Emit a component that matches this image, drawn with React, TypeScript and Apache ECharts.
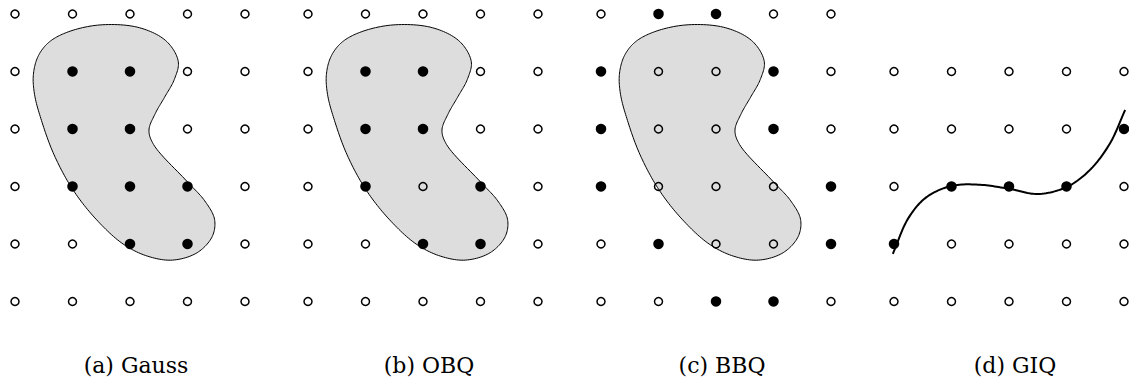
import React, { useEffect, useRef } from 'react';
import * as echarts from 'echarts';

// Panel captions
const panelLabels = ['(a) Gauss', '(b) OBQ', '(c) BBQ', '(d) GIQ'];

// Lattice: columns and rows present in each panel
const columns = [0, 1, 2, 3, 4];
const panelRows = [
  [0, 1, 2, 3, 4, 5],
  [0, 1, 2, 3, 4, 5],
  [0, 1, 2, 3, 4, 5],
  [1, 2, 3, 4, 5],
];

// Selected (filled) lattice points per panel, as [column, row]
const gaussFilled = [[1, 1], [2, 1], [1, 2], [2, 2], [1, 3], [2, 3], [3, 3], [2, 4], [3, 4]];
const obqFilled = [[1, 1], [2, 1], [1, 2], [2, 2], [1, 3], [3, 3], [2, 4], [3, 4]];
const bbqFilled = [[1, 0], [2, 0], [0, 1], [3, 1], [0, 2], [3, 2], [0, 3], [4, 3], [1, 4], [4, 4], [2, 5], [3, 5]];
const giqFilled = [[4, 2], [1, 3], [2, 3], [3, 3], [0, 4]];
const panelFilled = [gaussFilled, obqFilled, bbqFilled, giqFilled];

// Kidney-shaped region outline (lattice units), used in panels a–c
const blobOutline = [
  [1.48, 0.19], [2.17, 0.24], [2.64, 0.48], [2.84, 0.83], [2.77, 1.14], [2.60, 1.45],
  [2.44, 1.73], [2.33, 2.02], [2.41, 2.27], [2.99, 2.91], [3.30, 3.25],
  [3.47, 3.57], [3.43, 3.87], [3.17, 4.15], [2.74, 4.28], [2.30, 4.21], [1.88, 4.00],
  [1.42, 3.58], [1.01, 3.06], [0.68, 2.45], [0.46, 1.85], [0.34, 1.40], [0.32, 1.05],
  [0.40, 0.74], [0.58, 0.50], [0.90, 0.32],
];

// Curve in panel d (lattice units)
const giqCurve = [
  [-0.02, 4.17], [0.25, 3.55], [0.56, 3.19], [1.00, 2.99], [1.50, 2.97], [2.00, 3.04],
  [2.50, 3.13], [3.00, 3.01], [3.40, 2.72], [3.75, 2.26], [4.02, 1.67],
];

const PANEL_STEP = 293;

// Centripetal Catmull-Rom through pixel points
function catmullRom(pts: number[][], closed: boolean, samples = 14): number[][] {
  const n = pts.length;
  const get = (i: number): number[] => {
    if (closed) return pts[((i % n) + n) % n];
    if (i < 0) return [2 * pts[0][0] - pts[1][0], 2 * pts[0][1] - pts[1][1]];
    if (i >= n) return [2 * pts[n - 1][0] - pts[n - 2][0], 2 * pts[n - 1][1] - pts[n - 2][1]];
    return pts[i];
  };
  const out: number[][] = [];
  const segs = closed ? n : n - 1;
  const lerp = (a: number[], b: number[], ta: number, tb: number, t: number) => {
    const d = tb - ta || 1e-6;
    return [((tb - t) * a[0] + (t - ta) * b[0]) / d, ((tb - t) * a[1] + (t - ta) * b[1]) / d];
  };
  for (let i = 0; i < segs; i++) {
    const p0 = get(i - 1), p1 = get(i), p2 = get(i + 1), p3 = get(i + 2);
    const dt = (a: number[], b: number[]) => Math.max(Math.pow(Math.hypot(b[0] - a[0], b[1] - a[1]), 0.5), 1e-4);
    const t0 = 0, t1 = t0 + dt(p0, p1), t2 = t1 + dt(p1, p2), t3 = t2 + dt(p2, p3);
    for (let s = 0; s < samples; s++) {
      const t = t1 + ((t2 - t1) * s) / samples;
      const a1 = lerp(p0, p1, t0, t1, t);
      const a2 = lerp(p1, p2, t1, t2, t);
      const a3 = lerp(p2, p3, t2, t3, t);
      const b1 = lerp(a1, a2, t0, t2, t);
      const b2 = lerp(a2, a3, t1, t3, t);
      out.push(lerp(b1, b2, t1, t2, t));
    }
  }
  if (!closed) out.push(pts[n - 1]);
  return out;
}

export default function App() {
  const ref = useRef<HTMLDivElement>(null);

  useEffect(() => {
    document.body.style.margin = '0';
    if (!ref.current) return;
    const chart = echarts.init(ref.current, undefined, { renderer: 'svg' });

    const grids: any[] = [];
    const xAxes: any[] = [];
    const yAxes: any[] = [];
    const series: any[] = [];
    const titles: any[] = [];

    for (let p = 0; p < 4; p++) {
      grids.push({ left: 15 + PANEL_STEP * p, top: 14, width: 230, height: 287.5 });
      xAxes.push({ gridIndex: p, type: 'value', min: 0, max: 4, show: false });
      yAxes.push({ gridIndex: p, type: 'value', min: 0, max: 5, inverse: true, show: false });

      if (p < 3) {
        series.push({
          type: 'custom',
          xAxisIndex: p,
          yAxisIndex: p,
          silent: true,
          z: 1,
          data: blobOutline,
          renderItem: (params: any, api: any) => {
            if (params.dataIndex !== 0) return null;
            const pts = catmullRom(blobOutline.map((pt) => api.coord(pt)), true);
            return {
              type: 'polygon',
              shape: { points: pts },
              style: { fill: '#dddddd', stroke: '#000000', lineWidth: 1 },
            };
          },
        });
      } else {
        series.push({
          type: 'custom',
          xAxisIndex: p,
          yAxisIndex: p,
          silent: true,
          z: 2,
          data: giqCurve,
          renderItem: (params: any, api: any) => {
            if (params.dataIndex !== 0) return null;
            const pts = catmullRom(giqCurve.map((pt) => api.coord(pt)), false);
            return {
              type: 'polyline',
              shape: { points: pts },
              style: { fill: 'none', stroke: '#000000', lineWidth: 2 },
            };
          },
        });
      }

      const filled = panelFilled[p];
      const isFilled = (c: number, r: number) => filled.some((f) => f[0] === c && f[1] === r);
      const openPts: number[][] = [];
      panelRows[p].forEach((r) => columns.forEach((c) => { if (!isFilled(c, r)) openPts.push([c, r]); }));

      series.push({
        type: 'scatter',
        xAxisIndex: p,
        yAxisIndex: p,
        silent: true,
        z: 3,
        clip: false,
        symbol: 'circle',
        symbolSize: 8,
        itemStyle: { color: 'rgba(0,0,0,0)', borderColor: '#000000', borderWidth: 1.5, opacity: 1 },
        data: openPts,
      });
      series.push({
        type: 'scatter',
        xAxisIndex: p,
        yAxisIndex: p,
        silent: true,
        z: 3,
        clip: false,
        symbol: 'circle',
        symbolSize: 10.5,
        itemStyle: { color: '#000000', opacity: 1 },
        data: filled,
      });

      titles.push({
        text: panelLabels[p],
        left: 131 + PANEL_STEP * p,
        top: 349,
        textAlign: 'center',
        textStyle: { fontFamily: 'DejaVu Serif', fontSize: 22, fontWeight: 'normal', color: '#000000' },
      });
    }

    chart.setOption({
      animation: false,
      backgroundColor: '#ffffff',
      title: titles,
      grid: grids,
      xAxis: xAxes,
      yAxis: yAxes,
      series,
    });

    return () => chart.dispose();
  }, []);

  return <div ref={ref} style={{ width: 1129, height: 383 }} />;
}
